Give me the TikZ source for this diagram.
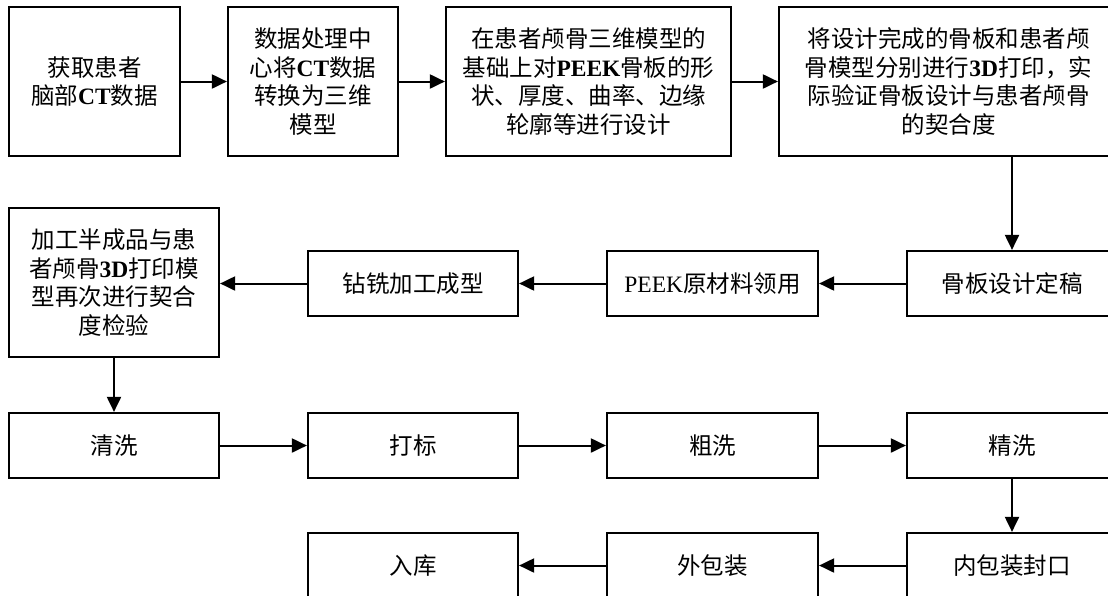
\documentclass[tikz,border=0pt]{standalone}
\usepackage{fontspec}
\setmainfont{Liberation Serif}
\newfontfamily\cjkfont{Noto Sans CJK SC}
\newcommand\zhx[1]{{\cjkfont #1}}
\usetikzlibrary{arrows.meta}
\tikzset{
  box/.style={draw, line width=2.2pt, inner sep=0pt, align=center,
    font=\fontsize{23.5}{28.4}\selectfont},
  arr/.style={line width=2pt, -{Triangle[length=15pt,width=14pt]}},
}
\begin{document}
\begin{tikzpicture}[x=1pt,y=-1pt]
\useasboundingbox (0,0) rectangle (1108,595);
\fill[white] (0,0) rectangle (1108,595);
% row 1
\node[box, minimum width=171pt, minimum height=149pt] (A) at (94.5,81.5)
  {\zhx{获取患者}\\\zhx{脑部}\textbf{CT}\zhx{数据}};
\node[box, minimum width=170pt, minimum height=149pt] (B) at (313,81.5)
  {\zhx{数据处理中}\\\zhx{心将}\textbf{CT}\zhx{数据}\\\zhx{转换为三维}\\\zhx{模型}};
\node[box, minimum width=285pt, minimum height=149pt] (C) at (588.5,81.5)
  {\zhx{在患者颅骨三维模型的}\\\zhx{基础上对}\textbf{PEEK}\zhx{骨板的形}\\\zhx{状、厚度、曲率、边缘}\\\zhx{轮廓等进行设计}};
\node[box, minimum width=339pt, minimum height=149pt] (D) at (948.5,81.5)
  {\zhx{将设计完成的骨板和患者颅}\\\zhx{骨模型分别进行}\textbf{3D}\zhx{打印，实}\\\zhx{际验证骨板设计与患者颅骨}\\\zhx{的契合度}};
% row 2
\node[box, minimum width=210pt, minimum height=149pt] (E) at (114,282.5)
  {\zhx{加工半成品与患}\\\zhx{者颅骨}\textbf{3D}\zhx{打印模}\\\zhx{型再次进行契合}\\\zhx{度检验}};
\node[box, minimum width=210pt, minimum height=65pt] (F) at (413,283.5) {\zhx{钻铣加工成型}};
\node[box, minimum width=211pt, minimum height=65pt] (G) at (712.5,283.5) {PEEK\zhx{原材料领用}};
\node[box, minimum width=210pt, minimum height=65pt] (H) at (1012,283.5) {\zhx{骨板设计定稿}};
% row 3
\node[box, minimum width=210pt, minimum height=65pt] (R1) at (114,445.5) {\zhx{清洗}};
\node[box, minimum width=210pt, minimum height=65pt] (R2) at (413,445.5) {\zhx{打标}};
\node[box, minimum width=211pt, minimum height=65pt] (R3) at (712.5,445.5) {\zhx{粗洗}};
\node[box, minimum width=210pt, minimum height=65pt] (R4) at (1012,445.5) {\zhx{精洗}};
% row 4
\node[box, minimum width=210pt, minimum height=65pt] (S1) at (1012,565.5) {\zhx{内包装封口}};
\node[box, minimum width=211pt, minimum height=65pt] (S2) at (712.5,565.5) {\zhx{外包装}};
\node[box, minimum width=210pt, minimum height=65pt] (S3) at (413,565.5) {\zhx{入库}};
% connectors
\draw[arr] (A.east) -- (B.west);
\draw[arr] (B.east) -- (C.west);
\draw[arr] (C.east) -- (D.west);
\draw[arr] (H.north |- D.south) -- (H.north);
\draw[arr] (H.west) -- (G.east);
\draw[arr] (G.west) -- (F.east);
\draw[arr] (F.west) -- (F.west -| E.east);
\draw[arr] (E.south) -- (R1.north);
\draw[arr] (R1.east) -- (R2.west);
\draw[arr] (R2.east) -- (R3.west);
\draw[arr] (R3.east) -- (R4.west);
\draw[arr] (R4.south) -- (S1.north);
\draw[arr] (S1.west) -- (S2.east);
\draw[arr] (S2.west) -- (S3.east);
\end{tikzpicture}
\end{document}
